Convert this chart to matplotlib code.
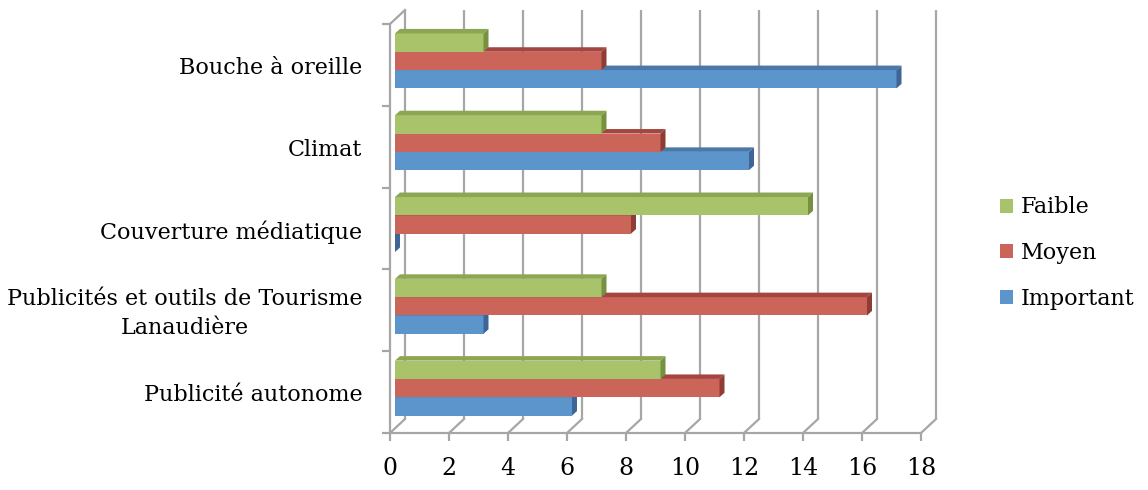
import matplotlib
matplotlib.use("Agg")
import matplotlib.pyplot as plt
from matplotlib.patches import Polygon, Patch
from matplotlib.transforms import ScaledTranslation

# survey results per source of awareness (bottom category first)
categories = ["Publicité autonome",
              "Publicités et outils de Tourisme\nLanaudière",
              "Couverture médiatique",
              "Climat",
              "Bouche à oreille"]
important = [6, 3, 0, 12, 17]
moyen = [11, 16, 8, 9, 7]
faible = [9, 7, 14, 7, 3]
xticks = [0, 2, 4, 6, 8, 10, 12, 14, 16, 18]

# (label, values, front, top, side) - drawn bottom to top inside a group
series = [
    ("Important", important, "#5B95CB", "#4C77A8", "#3E6595"),
    ("Moyen", moyen, "#CB655A", "#A4463F", "#8F3C36"),
    ("Faible", faible, "#A9C36A", "#8CA653", "#76913F"),
]

plt.rcParams['font.family'] = ['DejaVu Serif']
FS = 16
GRID = "#A6A6A6"

W, H = 1148, 490
fig = plt.figure(figsize=(W / 100, H / 100), dpi=100)

# front face of the plot box, in pixels
x0, x1 = 390, 921
yb, yt = 433, 24
ax = fig.add_axes([x0 / W, 1 - yb / H, (x1 - x0) / W, (yb - yt) / H])
ax.set_xlim(0, 18)
ax.set_ylim(0, 5)
ppx = (x1 - x0) / 18.0
ppy = (yb - yt) / 5.0

# depth of the box (front -> back wall) in data units
bdx = 15 / ppx
bdy = 14 / ppy

# back wall gridlines and floor lines
for t in xticks:
    ax.plot([t + bdx, t + bdx], [bdy, 5 + bdy], color=GRID, lw=1.6,
            clip_on=False, zorder=1, solid_capstyle='butt')
    ax.plot([t, t + bdx], [0, bdy], color=GRID, lw=1.6, clip_on=False,
            zorder=1)
ax.plot([0, bdx], [5, 5 + bdy], color=GRID, lw=1.6, clip_on=False, zorder=1)

# bars sit a little behind the front face
bar_trans = ax.transData + ScaledTranslation(5 / 100, 4 / 100, fig.dpi_scale_trans)
h = 0.224
ddx = 5 / ppx
ddy = 4.5 / ppy

for k, (label, vals, c_front, c_top, c_side) in enumerate(series):
    for i, v in enumerate(vals):
        yb0 = i + 0.5 - 1.5 * h + k * h
        yt0 = yb0 + h
        z = 3 + k
        ax.barh(yb0, v, height=h, align='edge', color=c_front,
                transform=bar_trans, clip_on=False, zorder=z, linewidth=0)
        top = Polygon([(0, yt0), (v, yt0), (v + ddx, yt0 + ddy), (ddx, yt0 + ddy)],
                      closed=True, facecolor=c_top, edgecolor='none',
                      transform=bar_trans, clip_on=False, zorder=z)
        side = Polygon([(v, yb0), (v, yt0), (v + ddx, yt0 + ddy), (v + ddx, yb0 + ddy)],
                       closed=True, facecolor=c_side, edgecolor='none',
                       transform=bar_trans, clip_on=False, zorder=z)
        ax.add_patch(top)
        ax.add_patch(side)

# axes lines
for s in ["top", "right"]:
    ax.spines[s].set_visible(False)
for s in ["left", "bottom"]:
    ax.spines[s].set_color(GRID)
    ax.spines[s].set_linewidth(1.6)

ax.set_xticks(xticks)
ax.set_xticklabels([str(t) for t in xticks], fontsize=17)
ax.tick_params(axis='x', which='major', length=6, width=1.6, color=GRID,
               direction='out', pad=11)

ax.set_yticks(range(6))
ax.set_yticklabels([])
ax.tick_params(axis='y', which='major', length=6, width=1.6, color=GRID,
               direction='out')
ax.set_yticks([i + 0.46 for i in range(5)], minor=True)
ax.set_yticklabels(categories, minor=True, fontsize=FS)
ax.tick_params(axis='y', which='minor', length=0, pad=20)
for lab in ax.get_yticklabels(minor=True):
    lab.set_multialignment('center')
    lab.set_linespacing(1.4)
    lab.set_va('center')

handles = [Patch(facecolor=s[2], edgecolor='none', label=s[0]) for s in reversed(series)]
fig.legend(handles=handles, loc='center left',
           bbox_to_anchor=(1000 / W, 1 - 253 / H), frameon=False,
           fontsize=FS, handlelength=0.6, handleheight=0.6,
           handletextpad=0.35, labelspacing=1.06, borderpad=0,
           borderaxespad=0)

fig.savefig("out.png", dpi=100)
